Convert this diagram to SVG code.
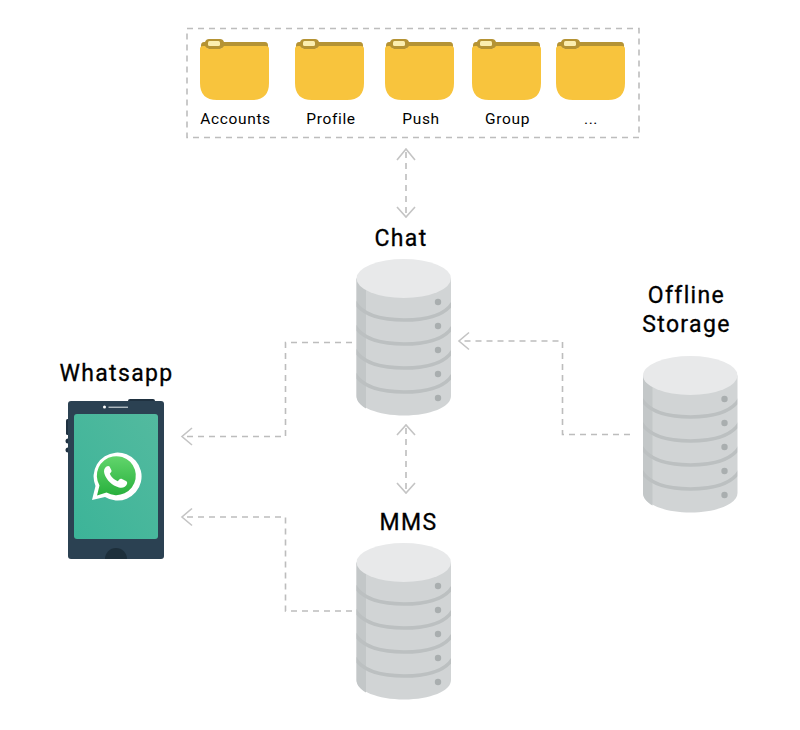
<svg xmlns="http://www.w3.org/2000/svg" width="800" height="730" viewBox="0 0 800 730">
<style>
text{font-family:Roboto,"Liberation Sans",sans-serif;fill:#000;text-anchor:middle}
.t{font-size:23px;font-weight:400;letter-spacing:1.35px;stroke:#000;stroke-width:.3px}
.s{font-size:15.5px;letter-spacing:.65px}
.d{fill:none;stroke:#bdbdbd;stroke-width:1.6;stroke-dasharray:6 5}
.a{fill:none;stroke:#c4c4c4;stroke-width:1.6}
.b{fill:none;stroke:#bcc0c1;stroke-width:3.500}
.o{fill:#a9aeaf}
</style>
<defs>
<clipPath id="body"><path d="M356.500 278.500V396C356.500 407 378 415.500 404 415.500S451 407 451 396V278.500Z"/></clipPath>
<g id="folder">
<path d="M1 47V45.500Q1 42 4 42H65Q68 42 68 45.500V47Z" fill="#b59334"/>
<path d="M5 42Q6 39 9 39H20Q23 39 24 42L24 47Q22 49 20 49H9Q7 49 5 47Z" fill="#b59334"/>
<path d="M0 49Q0 46 3 46H5Q7 49 9 49H20Q22 49 24 46H66Q69 46 69 49V83Q69 100 52 100H17Q0 100 0 83Z" fill="#f8c43d"/>
<rect x="8" y="41" width="12" height="5" rx="1.500" fill="#fbeeb0"/>
</g>
<g id="db">
<path d="M356.500 278.500V396C356.500 407 378 415.500 404 415.500S451 407 451 396V278.500Z" fill="#d1d4d5"/>
<path d="M356.500 278.500V396C356.500 401 360 405 366 408.500V278.500Z" fill="#c3c7c8"/>
<g clip-path="url(#body)">
<path class="b" d="M355 302C362 314 380 320 404 320S446 314 453 302"/>
<path class="b" d="M355 326C362 338 380 344 404 344S446 338 453 326"/>
<path class="b" d="M355 350C362 362 380 368 404 368S446 362 453 350"/>
<path class="b" d="M355 374C362 386 380 392 404 392S446 386 453 374"/>
</g>
<ellipse cx="403.750" cy="278.500" rx="47.250" ry="19.500" fill="#e8e9ea"/>
<circle class="o" cx="438" cy="302" r="3.200"/>
<circle class="o" cx="438" cy="326" r="3.200"/>
<circle class="o" cx="438" cy="350" r="3.200"/>
<circle class="o" cx="438" cy="374" r="3.200"/>
<circle class="o" cx="438" cy="398" r="3.200"/>
</g>
<linearGradient id="wa" x1="0" y1="0" x2="0" y2="1"><stop offset="0" stop-color="#62d56c"/><stop offset="1" stop-color="#28b03d"/></linearGradient>
<linearGradient id="scr" x1="1" y1="0" x2="0" y2="1"><stop offset="0" stop-color="#53ba9f"/><stop offset="1" stop-color="#3cb498"/></linearGradient>
</defs>

<g id="connectors">
<rect class="d" x="187" y="28.500" width="452" height="109"/>
<path class="d" d="M406 152V214"/>
<path class="a" d="M397 160L406 149L415 160M397 207L406 217L415 207"/>
<path class="d" d="M406 428V490"/>
<path class="a" d="M397 435L406 425L415 435M397 483L406 493L415 483"/>
<path class="d" d="M352 342.500H285.500V436.500H184"/>
<path class="a" d="M192 428L182 436.500L192 445"/>
<path class="d" d="M352 611H285.500V517H184"/>
<path class="a" d="M192 508.500L182 517L192 525.500"/>
<path class="d" d="M630 434.500H562.500V341H461"/>
<path class="a" d="M469 332.500L459 341L469 349.500"/>
</g>

<g id="folder-accounts"><use href="#folder" x="200"/><text class="s" x="235.500" y="123.500">Accounts</text></g>
<g id="folder-profile"><use href="#folder" x="295"/><text class="s" x="331" y="123.500">Profile</text></g>
<g id="folder-push"><use href="#folder" x="385"/><text class="s" x="421" y="123.500">Push</text></g>
<g id="folder-group"><use href="#folder" x="472"/><text class="s" x="507.500" y="123.500">Group</text></g>
<g id="folder-more"><use href="#folder" x="556"/><text class="s" x="591" y="123.500">...</text></g>

<g id="chat"><text class="t" x="401" y="246">Chat</text><use href="#db"/></g>
<g id="mms"><text class="t" x="408.500" y="530">MMS</text><use href="#db" y="284"/></g>
<g id="offline-storage"><text class="t" x="686.500" y="303">Offline</text><text class="t" x="686.500" y="332">Storage</text><use href="#db" x="286.500" y="97"/></g>

<g id="whatsapp">
<text class="t" x="116.500" y="381">Whatsapp</text>
<rect x="128" y="399" width="27" height="5" rx="2" fill="#1f3140"/>
<rect x="66" y="419" width="4" height="16" rx="1.500" fill="#1f3140"/>
<circle cx="68" cy="441" r="2.500" fill="#1f3140"/>
<circle cx="68" cy="450" r="2.500" fill="#1f3140"/>
<rect x="68" y="401" width="96" height="158" rx="3" fill="#2b4152"/>
<rect x="74" y="414" width="84" height="125" rx="3" fill="url(#scr)"/>
<path d="M105 559A11 11 0 0 1 127 559Z" fill="#1d2f3b"/>
<circle cx="104.500" cy="407" r="1.500" fill="#fff"/>
<path d="M108.500 407.200H128" stroke="#e8eef0" stroke-width="1"/>
<path d="M93 500L96.500 486A24 24 0 1 1 106 497Z" fill="#fff" transform="translate(-1 0)"/>
<g transform="translate(-1 0)">
<path d="M98 495.500L100.500 485.500A19.500 19.500 0 1 1 107.500 492.500Z" fill="url(#wa)"/>
<path d="M107.500 466.500C105 468 104.500 471 105.500 474C107.500 480 113 485.500 120 487.500C123.500 488.500 127 487 128 484C128.500 482.500 128 481.500 127 481L122.500 478.800C121.500 478.400 121 478.800 120.300 479.600L118.800 481.200C115 480 112 476.500 110.800 473.800L112 472.300C112.600 471.600 112.700 471 112.300 470.100L110.500 466.600C110 465.800 108.500 465.900 107.500 466.500Z" fill="#fff"/>
</g>
</g>
</svg>
